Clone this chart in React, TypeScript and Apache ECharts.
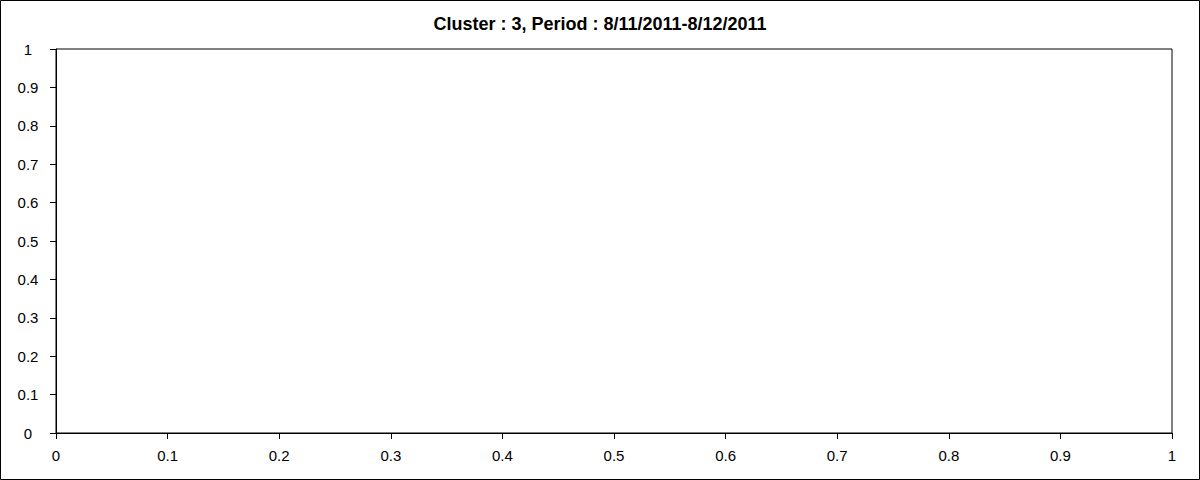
import React, { useEffect, useRef } from "react";
import * as echarts from "echarts";

const titleText = "Cluster : 3, Period : 8/11/2011-8/12/2011";
const xRange = [0, 1];
const yRange = [0, 1];
const tickStep = 0.1;
const points: number[][] = [];

export default function App() {
  const ref = useRef<HTMLDivElement>(null);
  useEffect(() => {
    if (!ref.current) return;
    const chart = echarts.init(ref.current, undefined, { renderer: "svg" });
    const font = "Arial, 'Liberation Sans', sans-serif";
    chart.setOption({
      animation: false,
      backgroundColor: "#ffffff",
      title: {
        text: titleText,
        left: "center",
        top: 10,
        textStyle: { fontFamily: font, fontSize: 18, fontWeight: "bold", color: "#000" },
      },
      graphic: [
        {
          type: "rect",
          shape: { x: 0.5, y: 0.5, width: 1199, height: 479 },
          style: { fill: "none", stroke: "#000", lineWidth: 1 },
          silent: true,
        },
      ],
      grid: {
        left: 56,
        right: 28,
        top: 49,
        bottom: 47,
        show: true,
        borderColor: "#000",
        borderWidth: 1,
      },
      xAxis: {
        type: "value",
        min: xRange[0],
        max: xRange[1],
        interval: tickStep,
        splitLine: { show: false },
        axisLine: { show: true, lineStyle: { color: "#000", width: 1 } },
        axisTick: { show: true, inside: false, length: 6, lineStyle: { color: "#000" } },
        axisLabel: {
          color: "#000",
          fontFamily: font,
          fontSize: 15,
          margin: 15,
          formatter: (v: number) => String(Math.round(v * 10) / 10),
        },
      },
      yAxis: {
        type: "value",
        min: yRange[0],
        max: yRange[1],
        interval: tickStep,
        splitLine: { show: false },
        axisLine: { show: true, lineStyle: { color: "#000", width: 1 } },
        axisTick: { show: true, inside: false, length: 6, lineStyle: { color: "#000" } },
        axisLabel: {
          color: "#000",
          fontFamily: font,
          fontSize: 15,
          margin: 28,
          align: "center",
          formatter: (v: number) => String(Math.round(v * 10) / 10),
        },
      },
      series: [{ type: "scatter", data: points }],
    });
    return () => chart.dispose();
  }, []);
  return (
    <div
      ref={ref}
      style={{ position: "fixed", left: 0, top: 0, width: 1200, height: 480 }}
    />
  );
}
